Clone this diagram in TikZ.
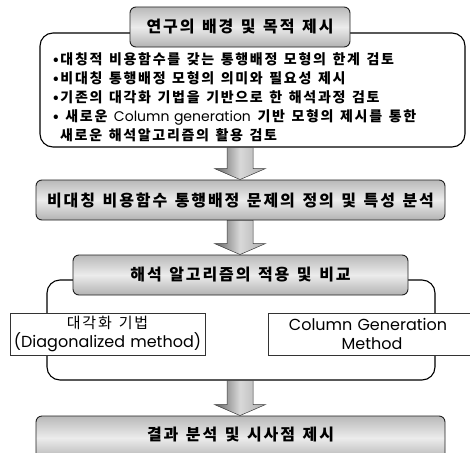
\documentclass[tikz,border=0pt]{standalone}
\usepackage{fontspec}
\setmainfont{Noto Sans CJK KR}[LetterSpace=12, WordSpace=1.35]
\newfontfamily\lat{Poppins}[WordSpace=1.2]
\usetikzlibrary{calc}
\tikzset{
  x=1pt, y=-1pt,
  headbox/.style={draw=gray!25!black, line width=0.9pt, rounded corners=6pt,
    top color=gray!55, bottom color=gray!60, middle color=gray!15,
    font=\fontsize{16}{18}\selectfont\bfseries, inner sep=0pt},
  bigbox/.style={draw=black, line width=1.1pt, rounded corners=13pt, fill=white, inner sep=0pt},
  methbox/.style={draw=gray!40!black, line width=0.6pt, fill=white, inner sep=0pt,
    align=center, font=\fontsize{15}{19}\selectfont},
  arrowshape/.style={draw=gray!45!black, line width=0.5pt,
    left color=gray!75!black, right color=gray!65, middle color=gray!30},
}
\newcommand{\blockarrow}[2]{%
  \path[arrowshape] let \p1=(#1), \p2=(#2) in
    (\x1-13,\y1) -- (\x1+13,\y1) -- (\x1+13,\y2+11) -- (\x1+25.5,\y2+11)
    -- (\x1,\y2) -- (\x1-25.5,\y2+11) -- (\x1-13,\y2+11) -- cycle;}
\begin{document}
\begin{tikzpicture}
\useasboundingbox (0,0) rectangle (470,452);
\clip (0,0) rectangle (470,452);
% first group
\node[bigbox, minimum width=425pt, minimum height=114pt] (big1) at (252.5,90) {};
\node[headbox, minimum width=220pt, minimum height=40pt] (title) at (240,27) {\raisebox{-2pt}{연구의 배경 및 목적 제시}};
\node[anchor=north west, align=left, inner sep=0pt,
  font=\fontsize{14}{19}\selectfont\bfseries] (list) at (53,52) {%
•대칭적 비용함수를 갖는 통행배정 모형의 한계 검토\\
•비대칭 통행배정 모형의 의미와 필요성 제시\\
•기존의 대각화 기법을 기반으로 한 해석과정 검토\\
• 새로운 {\lat\mdseries Column generation} 기반 모형의 제시를 통한\\
\hspace{7pt}새로운 해석알고리즘의 활용 검토};
% second
\node[headbox, minimum width=409pt, minimum height=40pt] (box2) at (240.5,200) {비대칭 비용함수 통행배정 문제의 정의 및 특성 분석};
% third group
\node[bigbox, minimum width=388pt, minimum height=100pt] (big2) at (241,330) {};
\node[headbox, minimum width=335pt, minimum height=40pt] (box3) at (240.5,275) {해석 알고리즘의 적용 및 비교};
\node[methbox, minimum width=195pt, minimum height=42pt] (left) at (107.5,334) {대각화 기법\\{\lat\fontsize{16}{19}\selectfont (Diagonalized method)}};
\node[methbox, minimum width=204pt, minimum height=42pt] (right) at (370,334) {\hspace*{-4pt}{\lat\fontsize{16}{19}\selectfont Column Generation}\\{\lat\fontsize{16}{19}\selectfont Method}\hspace*{-4pt}};
% fourth
\node[headbox, minimum width=409pt, minimum height=44pt] (box4) at (240.5,438) {\raisebox{9pt}{결과 분석 및 시사점 제시}};
% arrows
\coordinate (a1s) at (big1.south -| title.south);
\coordinate (a1e) at (box2.north -| title.south);
\blockarrow{a1s}{a1e}
\coordinate (a2s) at (box2.south -| title.south);
\coordinate (a2e) at (box3.north -| title.south);
\blockarrow{a2s}{a2e}
\coordinate (a3s) at (big2.south -| title.south);
\coordinate (a3e) at (box4.north -| title.south);
\blockarrow{a3s}{a3e}
\end{tikzpicture}
\end{document}
